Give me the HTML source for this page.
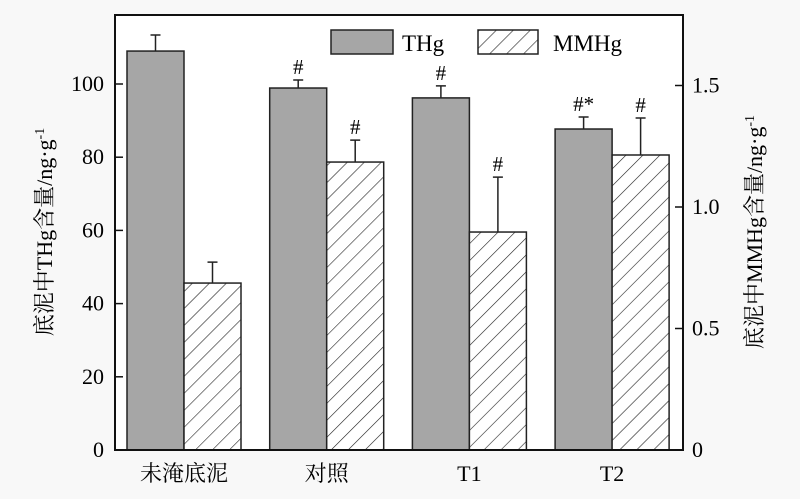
<!DOCTYPE html>
<html><head><meta charset="utf-8"><style>
body{margin:0;background:#f8f8f8;}
svg{display:block;font-family:"Liberation Serif","Noto Serif CJK SC",serif;}
</style></head><body>
<svg id="chart" width="800" height="499" xmlns="http://www.w3.org/2000/svg">
<defs>
<pattern id="hatch" patternUnits="userSpaceOnUse" width="12" height="12" patternTransform="rotate(45)">
<rect width="12" height="12" fill="#fff"/><line x1="0" y1="0" x2="0" y2="12" stroke="#222" stroke-width="1.2"/>
</pattern>
</defs>
<rect x="115" y="15" width="568" height="435" fill="#fff"/>
<g id="bars"></g>
<rect x="115" y="15" width="568" height="435" fill="none" stroke="#111" stroke-width="2"/>
<g id="axes"></g>
<g>
<rect x="331" y="30" width="62" height="24" fill="#a6a6a6" stroke="#222" stroke-width="1.5"/>
<text x="402" y="51" font-size="23">THg</text>
<rect x="478" y="30" width="60" height="24" fill="url(#hatch)" stroke="#222" stroke-width="1.5"/>
<text x="553" y="51" font-size="23">MMHg</text>
</g>
<text transform="translate(52,232) rotate(-90)" text-anchor="middle" font-size="22">底泥中THg含量/ng·g<tspan dy="-8" font-size="14">-1</tspan></text>
<text transform="translate(762,232) rotate(-90)" text-anchor="middle" font-size="22">底泥中MMHg含量/ng·g<tspan dy="-8" font-size="14">-1</tspan></text>
</svg>
<script>
const categories=["未淹底泥","对照","T1","T2"];
const thg=[109,98.9,96.2,87.7];
const thgErr=[4.4,2.2,3.3,3.3];
const mmhg=[0.687,1.185,0.897,1.214];
const mmhgErr=[0.086,0.09,0.226,0.152];
const thgMarks=["","#","#","#*"];
const mmhgMarks=["","#","#","#"];
const leftTicks=[0,20,40,60,80,100];
const rightTicks=[0,0.5,1.0,1.5];
const NS="http://www.w3.org/2000/svg";
const yL=v=>450-v*3.66;
const yR=v=>450-v*243;
const groupX=i=>127+i*142.7;
const bw=57;
function mk(tag,attrs,parent){const e=document.createElementNS(NS,tag);for(const k in attrs)e.setAttribute(k,attrs[k]);parent.appendChild(e);return e;}
const bars=document.getElementById("bars"),axes=document.getElementById("axes");
categories.forEach((c,i)=>{
  const x=groupX(i);
  const b1=mk("rect",{x:x,y:yL(thg[i]),width:bw,height:450-yL(thg[i]),fill:"#a6a6a6",stroke:"#222","stroke-width":1.5},bars);
  
  
  const e1=mk("path",{d:`M${x+bw/2} ${yL(thg[i])}V${yL(thg[i]+thgErr[i])}M${x+bw/2-5} ${yL(thg[i]+thgErr[i])}h10`,stroke:"#222","stroke-width":1.5,fill:"none"},bars);
  
  
  const b2=mk("rect",{x:x+bw,y:yR(mmhg[i]),width:bw,height:450-yR(mmhg[i]),fill:"url(#hatch)",stroke:"#222","stroke-width":1.5},bars);
  
  
  const e2=mk("path",{d:`M${x+bw*1.5} ${yR(mmhg[i])}V${yR(mmhg[i]+mmhgErr[i])}M${x+bw*1.5-5} ${yR(mmhg[i]+mmhgErr[i])}h10`,stroke:"#222","stroke-width":1.5,fill:"none"},bars);
  
  
  if(thgMarks[i]){const t=mk("text",{x:x+bw/2,y:yL(thg[i]+thgErr[i])-6,"text-anchor":"middle","font-size":21},bars);t.textContent=thgMarks[i];
    
    }
  if(mmhgMarks[i]){const t=mk("text",{x:x+bw*1.5,y:yR(mmhg[i]+mmhgErr[i])-6,"text-anchor":"middle","font-size":21},bars);t.textContent=mmhgMarks[i];
    
    }
  const l=mk("text",{x:x+bw,y:481,"text-anchor":"middle","font-size":22},axes);l.textContent=c;
  
  
});
leftTicks.forEach(v=>{
  const t=mk("line",{x1:115,x2:123,y1:yL(v),y2:yL(v),stroke:"#111","stroke-width":1.5},axes);
  
  
  const l=mk("text",{x:104,y:yL(v)+7,"text-anchor":"end","font-size":22},axes);l.textContent=v;
  
  
});
rightTicks.forEach(v=>{
  const t=mk("line",{x1:675,x2:683,y1:yR(v),y2:yR(v),stroke:"#111","stroke-width":1.5},axes);
  
  
  const l=mk("text",{x:692,y:yR(v)+7,"font-size":22},axes);l.textContent=v===0?"0":v.toFixed(1);
  
  
});
</script>
</body></html>
